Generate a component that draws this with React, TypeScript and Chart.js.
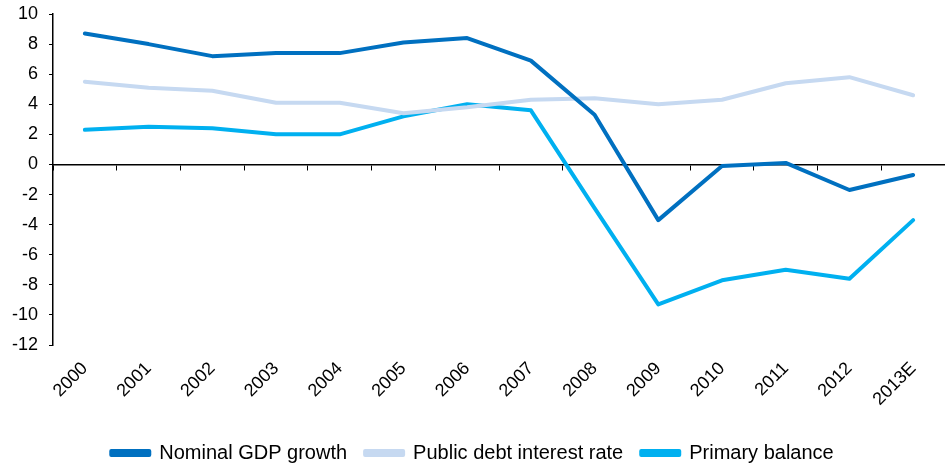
import React, { useEffect, useRef } from "react";
import { Chart, registerables } from "chart.js";
Chart.register(...registerables);

const categories = ["2000","2001","2002","2003","2004","2005","2006","2007","2008","2009","2010","2011","2012","2013E"];
const nominalGdpGrowth = [8.7, 8.0, 7.2, 7.4, 7.4, 8.1, 8.4, 6.9, 3.3, -3.7, -0.1, 0.1, -1.7, -0.7];
const publicDebtInterest = [5.5, 5.1, 4.9, 4.1, 4.1, 3.4, 3.8, 4.3, 4.4, 4.0, 4.3, 5.4, 5.8, 4.6];
const primaryBalance = [2.3, 2.5, 2.4, 2.0, 2.0, 3.2, 4.0, 3.6, -2.9, -9.3, -7.7, -7.0, -7.6, -3.7];
const seriesNames = ["Nominal GDP growth", "Public debt interest rate", "Primary balance"];
const seriesColors = ["#0070C0", "#C6D9F1", "#00B0F0"];

export default function App() {
  const ref = useRef<HTMLCanvasElement>(null);
  useEffect(() => {
    document.body.style.margin = "0";
    const font = { family: "Arial, 'Liberation Sans', sans-serif", size: 18 };
    const mk = (i: number, data: number[]) => ({
      label: seriesNames[i],
      data,
      borderColor: seriesColors[i],
      backgroundColor: seriesColors[i],
      borderWidth: 4,
      pointRadius: 0,
      tension: 0,
      borderCapStyle: "round" as const,
      borderJoinStyle: "round" as const,
      xAxisID: "x",
    });
    const chart = new Chart(ref.current!, {
      type: "line",
      data: {
        labels: categories,
        datasets: [
          mk(0, nominalGdpGrowth),
          mk(1, publicDebtInterest),
          mk(2, primaryBalance),
        ],
      },
      options: {
        animation: false,
        responsive: false,
        maintainAspectRatio: false,
        layout: { padding: { top: 14, right: 0, left: 0, bottom: -5 } },
        plugins: {
          legend: {
            position: "bottom",
            labels: {
              font: { family: "Arial, 'Liberation Sans', sans-serif", size: 20 },
              color: "#000",
              boxWidth: 38,
              boxHeight: 4,
              padding: 18,
            },
          },
          tooltip: { enabled: false },
        },
        scales: {
          x: {
            type: "category",
            offset: true,
            position: "bottom",
            border: { display: false },
            grid: { display: false },
            ticks: {
              color: "#000",
              font,
              maxRotation: 45,
              minRotation: 45,
              autoSkip: false,
              padding: 5,
            },
            afterFit: (s: any) => { s.height = 80; s.paddingLeft = 0; s.paddingRight = 0; },
          },
          x2: {
            type: "category",
            labels: categories,
            offset: true,
            position: { y: 0 } as any,
            border: { display: true, color: "#000", width: 1.5 },
            grid: { display: true, drawOnChartArea: false, drawTicks: true, tickLength: 5, color: "#000", offset: true },
            ticks: { display: false },
          },
          y: {
            min: -12,
            max: 10,
            border: { display: true, color: "#000", width: 1.5 },
            grid: { display: true, drawOnChartArea: false, drawTicks: true, tickLength: 4, color: "#000" },
            ticks: { stepSize: 2, color: "#000", font, padding: 11 },
            afterFit: (s: any) => { s.width = 53; s.paddingTop = 0; s.paddingBottom = 0; },
          },
        },
      },
    });
    return () => chart.destroy();
  }, []);
  return (
    <div style={{ width: 945, height: 468 }}>
      <canvas ref={ref} width={945} height={468} style={{ width: 945, height: 468 }} />
    </div>
  );
}
